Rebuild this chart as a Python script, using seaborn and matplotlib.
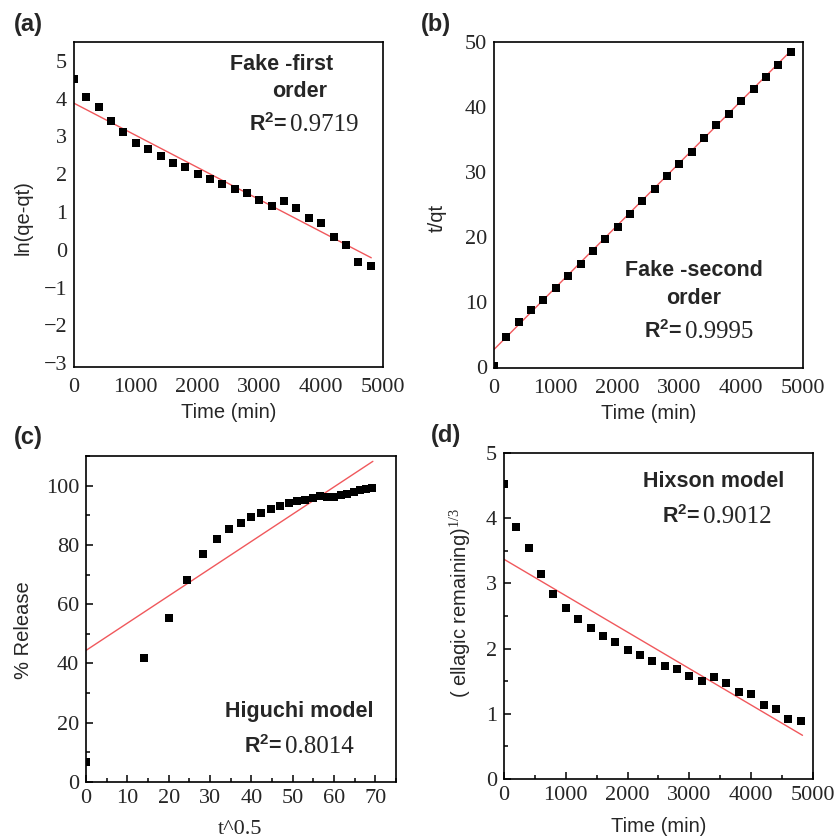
import numpy as np
import pandas as pd
import matplotlib
matplotlib.use('Agg')
import matplotlib.pyplot as plt
import seaborn as sns
from matplotlib.ticker import MultipleLocator

# dados
tempo = [0, 200, 400, 600, 800, 1000, 1200, 1400, 1600, 1800, 2000, 2200,
         2400, 2600, 2800, 3000, 3200, 3400, 3600, 3800, 4000, 4200, 4400,
         4600, 4800]

# (a) pseudo primeira ordem
ln_qe_qt = [4.51, 4.05, 3.77, 3.42, 3.11, 2.84, 2.67, 2.49, 2.31, 2.18, 2.00,
            1.87, 1.73, 1.62, 1.51, 1.31, 1.16, 1.29, 1.10, 0.84, 0.72, 0.34,
            0.13, -0.32, -0.43]
ajuste_a_x = [0, 4810]
ajuste_a_y = [3.88, -0.21]

# (b) pseudo segunda ordem
t_qt = [0.2, 4.6, 7.0, 8.7, 10.3, 12.2, 14.0, 15.9, 17.9, 19.7, 21.6, 23.6,
        25.5, 27.4, 29.4, 31.2, 33.1, 35.3, 37.2, 39.0, 41.0, 42.7, 44.6,
        46.5, 48.4]
ajuste_b_x = [0, 4820]
ajuste_b_y = [2.7, 48.8]

# (c) Higuchi
raiz_t = [0, 14.1, 20.0, 24.5, 28.3, 31.6, 34.6, 37.4, 40.0, 42.4, 44.7, 46.9,
          49.0, 51.0, 52.9, 54.8, 56.6, 58.3, 60.0, 61.6, 63.2, 64.8, 66.3,
          67.8, 69.3]
liberacao = [6.9, 41.9, 55.3, 68.2, 76.8, 81.9, 85.3, 87.3, 89.3, 90.7, 92.2,
             93.2, 94.2, 94.8, 95.3, 95.8, 96.5, 96.2, 96.0, 96.8, 97.3, 97.8,
             98.4, 98.9, 99.2]
ajuste_c_x = [0, 69.4]
ajuste_c_y = [44.4, 108.2]

# (d) Hixson
hixson = [4.53, 3.86, 3.54, 3.15, 2.84, 2.63, 2.46, 2.32, 2.20, 2.10, 1.98,
          1.90, 1.81, 1.74, 1.68, 1.58, 1.50, 1.56, 1.47, 1.34, 1.30, 1.14,
          1.07, 0.92, 0.89]
ajuste_d_x = [0, 4830]
ajuste_d_y = [3.37, 0.67]

sns.set_style('white')
plt.rcParams['font.family'] = ['Liberation Serif', 'DejaVu Serif']
plt.rcParams['mathtext.fontset'] = 'custom'
plt.rcParams['mathtext.rm'] = 'Liberation Serif'
plt.rcParams['mathtext.it'] = 'Liberation Serif:italic'
plt.rcParams['mathtext.bf'] = 'Liberation Sans:bold'

SANS = ['Liberation Sans', 'DejaVu Sans']
SERIF = ['Liberation Serif', 'DejaVu Serif']
VERMELHO = '#f0585c'
TAM_TICK = 16
TAM_ROTULO = 14.5

W, H = 837, 840
fig = plt.figure(figsize=(W / 100, H / 100), dpi=100)


def eixo(esq, topo, dir, base):
    return fig.add_axes([esq / W, 1 - base / H, (dir - esq) / W, (base - topo) / H])


def texto(x, y, s, **kw):
    fig.text(x / W, 1 - y / H, s, **kw)


def painel(ax, x, y, ax_x, ax_y):
    sns.lineplot(x=ax_x, y=ax_y, color=VERMELHO, linewidth=1, ax=ax, zorder=2)
    sns.scatterplot(x=x, y=y, marker='s', s=36, color='black',
                    edgecolor='black', linewidth=0, ax=ax, zorder=3)
    for sp in ax.spines.values():
        sp.set_visible(True)
        sp.set_color('black')
        sp.set_linewidth(1.2)
    ax.set_facecolor('white')


ax_a = eixo(74, 42, 383, 367)
ax_b = eixo(494, 42, 803, 368)
ax_c = eixo(86, 456, 396, 782)
ax_d = eixo(504, 453, 813, 779)

painel(ax_a, tempo, ln_qe_qt, ajuste_a_x, ajuste_a_y)
painel(ax_b, tempo, t_qt, ajuste_b_x, ajuste_b_y)
painel(ax_c, raiz_t, liberacao, ajuste_c_x, ajuste_c_y)
painel(ax_d, tempo, hixson, ajuste_d_x, ajuste_d_y)

# limites e ticks
ax_a.set_xlim(0, 5000)
ax_a.set_ylim(-3.1, 5.5)
ax_a.set_xticks(range(0, 5001, 1000))
ax_a.set_yticks(range(-3, 6))

ax_b.set_xlim(0, 5000)
ax_b.set_ylim(-0.15, 50)
ax_b.set_xticks(range(0, 5001, 1000))
ax_b.set_yticks(range(0, 51, 10))

ax_c.set_xlim(0, 75)
ax_c.set_ylim(0, 110)
ax_c.set_xticks(range(0, 71, 10))
ax_c.set_yticks(range(0, 101, 20))
ax_c.xaxis.set_minor_locator(MultipleLocator(5))
ax_c.yaxis.set_minor_locator(MultipleLocator(10))

ax_d.set_xlim(0, 5000)
ax_d.set_ylim(0, 5)
ax_d.set_xticks(range(0, 5001, 1000))
ax_d.set_yticks(range(0, 6))
ax_d.xaxis.set_minor_locator(MultipleLocator(500))
ax_d.yaxis.set_minor_locator(MultipleLocator(0.5))

for ax in (ax_a, ax_b):
    ax.tick_params(axis='both', which='both', length=0, labelsize=TAM_TICK)
    ax.tick_params(axis='x', pad=8)
    ax.tick_params(axis='y', pad=5)

for ax in (ax_c, ax_d):
    ax.tick_params(axis='both', which='major', direction='in', length=5,
                   width=1.1, color='black', labelsize=TAM_TICK, pad=5,
                   bottom=True, left=True, top=False, right=False)
    ax.tick_params(axis='both', which='minor', direction='in', length=3,
                   width=1.1, color='black',
                   bottom=True, left=True, top=False, right=False)

for ax in (ax_a, ax_b, ax_c, ax_d):
    for lbl in ax.get_xticklabels() + ax.get_yticklabels():
        lbl.set_family(SERIF)

# rótulos dos eixos
ax_a.set_xlabel('Time (min)', family=SANS, fontsize=TAM_ROTULO)
ax_a.set_ylabel('ln(qe-qt)', family=SANS, fontsize=TAM_ROTULO)
ax_a.xaxis.set_label_coords(0.5, -0.11)
ax_a.yaxis.set_label_coords(-0.133, 0.46)

ax_b.set_xlabel('Time (min)', family=SANS, fontsize=TAM_ROTULO)
ax_b.set_ylabel('t/qt', family=SANS, fontsize=TAM_ROTULO)
ax_b.xaxis.set_label_coords(0.5, -0.11)
ax_b.yaxis.set_label_coords(-0.152, 0.46)

ax_c.set_xlabel('t^0.5', family=SERIF, fontsize=16)
ax_c.set_ylabel('% Release', family=SANS, fontsize=TAM_ROTULO)
ax_c.xaxis.set_label_coords(0.497, -0.118)
ax_c.yaxis.set_label_coords(-0.171, 0.466)

ax_d.set_xlabel('Time (min)', family=SANS, fontsize=TAM_ROTULO)
ax_d.set_ylabel(r'( ellagic remaining)$^{\mathit{1/3}}$', family=SANS, fontsize=TAM_ROTULO)
ax_d.xaxis.set_label_coords(0.5, -0.118)
ax_d.yaxis.set_label_coords(-0.10, 0.54)

# letras dos painéis
for x, y, s in [(14, 25, '(a)'), (421, 25, '(b)'), (14, 437, '(c)'), (431, 435, '(d)')]:
    texto(x, y, s, family=SANS, fontweight='bold', fontsize=17, ha='left', va='center')

# anotações dos modelos
negrito = dict(family=SANS, fontweight='bold', fontsize=15.5, va='baseline')
numero = dict(family=SERIF, fontsize=18, va='baseline', ha='left')
r2 = r'$\mathbf{R^{2}}$='

texto(287, 131, r2, ha='right', **negrito)
texto(282, 70, 'Fake -first', ha='center', **negrito)
texto(300, 97, 'order', ha='center', **negrito)
texto(290, 131, '0.9719', **numero)

texto(694, 276, 'Fake -second', ha='center', **negrito)
texto(694, 304, 'order', ha='center', **negrito)
texto(682, 338, r2, ha='right', **negrito)
texto(685, 338, '0.9995', **numero)

texto(299, 717, 'Higuchi model', ha='center', **negrito)
texto(282, 753, r2, ha='right', **negrito)
texto(285, 753, '0.8014', **numero)

texto(714, 487, 'Hixson model', ha='center', **negrito)
texto(700, 523, r2, ha='right', **negrito)
texto(703, 523, '0.9012', **numero)

fig.savefig('out.png', dpi=100, facecolor='white')
